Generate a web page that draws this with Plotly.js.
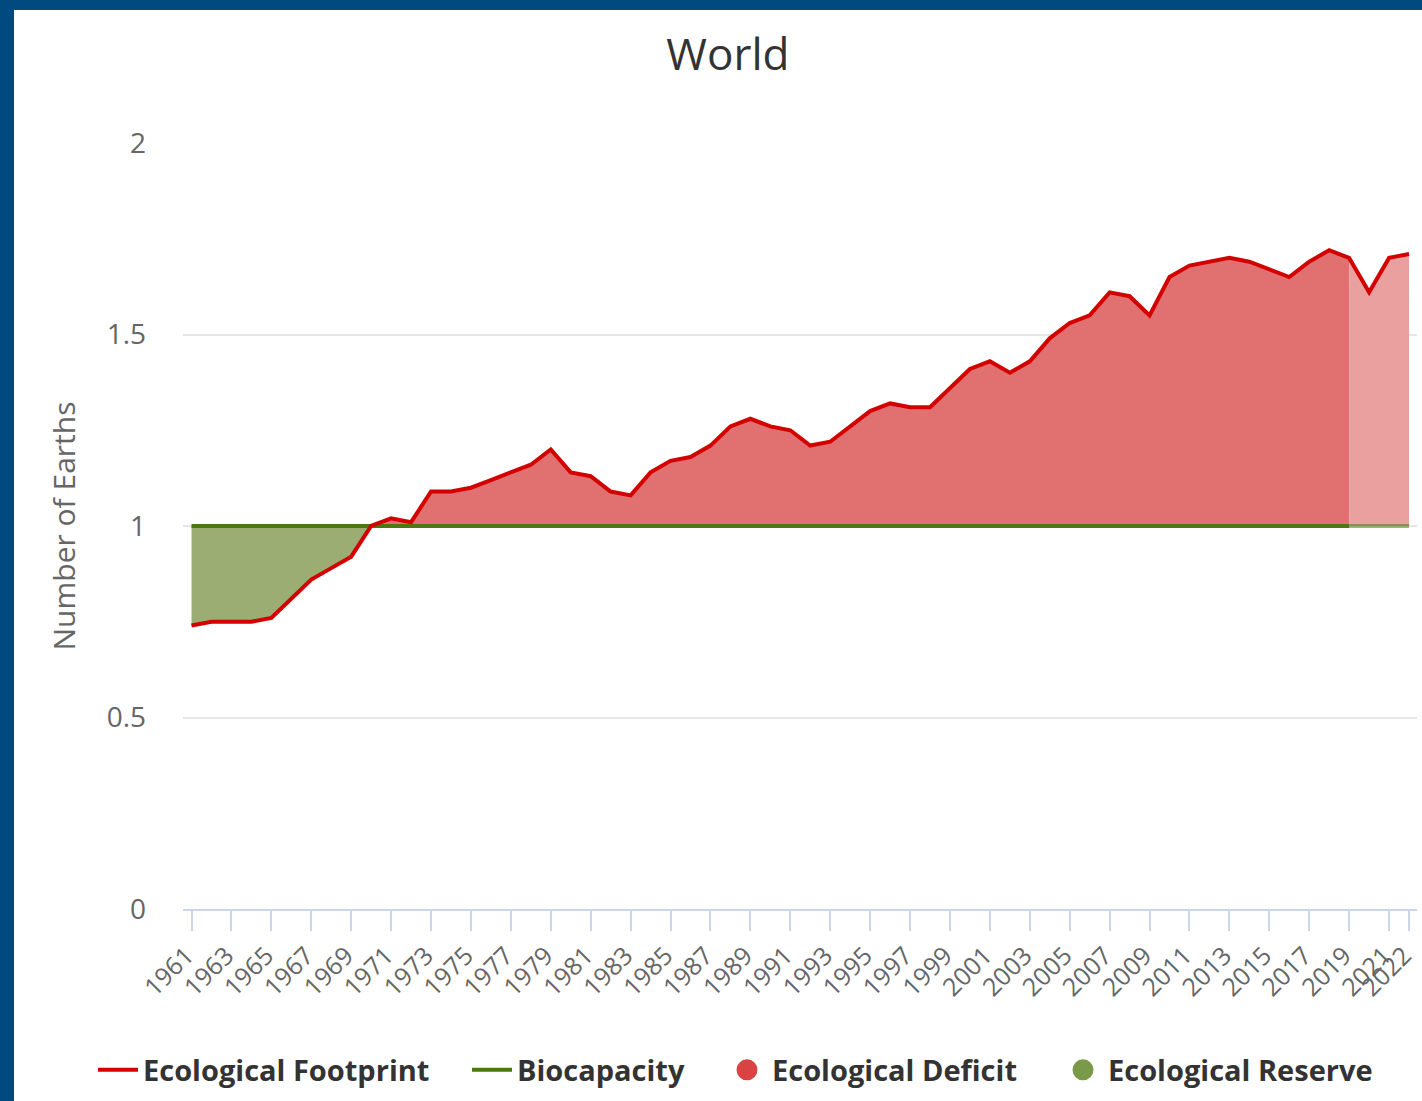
<!DOCTYPE html>
<html>
<head>
<meta charset="utf-8">
<script src="https://cdn.plot.ly/plotly-3.0.1.min.js"></script>
<style>
  html, body { margin: 0; padding: 0; background: #004a80; width: 1422px; height: 1101px; overflow: hidden; }
  #chart { position: absolute; left: 14px; top: 10px; width: 1408px; height: 1091px; background: #ffffff; }
</style>
</head>
<body>
<div id="chart"></div>
<script>
// ---- data ----
const years = [1961,1962,1963,1964,1965,1966,1967,1968,1969,1970,
  1971,1972,1973,1974,1975,1976,1977,1978,1979,1980,
  1981,1982,1983,1984,1985,1986,1987,1988,1989,1990,
  1991,1992,1993,1994,1995,1996,1997,1998,1999,2000,
  2001,2002,2003,2004,2005,2006,2007,2008,2009,2010,
  2011,2012,2013,2014,2015,2016,2017,2018,2019,2020,
  2021,2022];
const footprint = [0.74,0.75,0.75,0.75,0.76,0.81,0.86,0.89,0.92,1.00,
  1.02,1.01,1.09,1.09,1.10,1.12,1.14,1.16,1.20,1.14,
  1.13,1.09,1.08,1.14,1.17,1.18,1.21,1.26,1.28,1.26,
  1.25,1.21,1.22,1.26,1.30,1.32,1.31,1.31,1.36,1.41,
  1.43,1.40,1.43,1.49,1.53,1.55,1.61,1.60,1.55,1.65,
  1.68,1.69,1.70,1.69,1.67,1.65,1.69,1.72,1.70,1.61,
  1.70,1.71];
const biocapacity = [1,1,1,1,1,1,1,1,1,1,
  1,1,1,1,1,1,1,1,1,1,
  1,1,1,1,1,1,1,1,1,1,
  1,1,1,1,1,1,1,1,1,1,
  1,1,1,1,1,1,1,1,1,1,
  1,1,1,1,1,1,1,1,1,1,
  1,1];
const lastMeasuredYear = 2019;
const tickYears = [1961,1963,1965,1967,1969,1971,1973,1975,1977,1979,1981,1983,1985,1987,1989,
  1991,1993,1995,1997,1999,2001,2003,2005,2007,2009,2011,2013,2015,2017,2019,2021,2022];
const yTicks = [0, 0.5, 1, 1.5, 2];
const seriesNames = ["Ecological Footprint","Biocapacity","Ecological Deficit","Ecological Reserve"];
const chartTitle = "World";
const yTitle = "Number of Earths";

// ---- derived ----
const upper = footprint.map((v, i) => Math.max(v, biocapacity[i]));
const lower = footprint.map((v, i) => Math.min(v, biocapacity[i]));
const cut = years.indexOf(lastMeasuredYear);
const sA = a => a.slice(0, cut + 1);
const sB = a => a.slice(cut);

const RED = "#d40000", GREEN = "#4b7a12";
const DEFICIT_FILL = "rgb(225,112,112)", DEFICIT_FILL_PROJ = "rgb(235,160,160)";
const RESERVE_FILL = "rgb(156,173,116)";
const none = {width: 0, color: "rgba(0,0,0,0)"};

const traces = [
  {x: years, y: lower, mode: "lines", line: none, showlegend: false, hoverinfo: "skip"},
  {x: years, y: biocapacity, mode: "lines", line: none, fill: "tonexty", fillcolor: RESERVE_FILL, showlegend: false, hoverinfo: "skip"},
  {x: sA(years), y: sA(biocapacity), mode: "lines", line: none, showlegend: false, hoverinfo: "skip"},
  {x: sA(years), y: sA(upper), mode: "lines", line: none, fill: "tonexty", fillcolor: DEFICIT_FILL, showlegend: false, hoverinfo: "skip"},
  {x: sB(years), y: sB(biocapacity), mode: "lines", line: none, showlegend: false, hoverinfo: "skip"},
  {x: sB(years), y: sB(upper), mode: "lines", line: none, fill: "tonexty", fillcolor: DEFICIT_FILL_PROJ, showlegend: false, hoverinfo: "skip"},
  {x: sA(years), y: sA(biocapacity), mode: "lines", name: seriesNames[1], legend: "legend2", line: {color: GREEN, width: 4}, hoverinfo: "skip"},
  {x: sB(years), y: sB(biocapacity), mode: "lines", showlegend: false, line: {color: "rgba(75,122,18,0.55)", width: 4}, hoverinfo: "skip"},
  {x: years, y: footprint, mode: "lines", name: seriesNames[0], legend: "legend", line: {color: RED, width: 4}, hoverinfo: "skip"},
  {x: [null], y: [null], mode: "markers", name: seriesNames[2], legend: "legend3",
   marker: {color: "#d94343", size: 16, symbol: "circle", line: {color: "#d94343", width: 5}}},
  {x: [null], y: [null], mode: "markers", name: seriesNames[3], legend: "legend4",
   marker: {color: "#7a9a4a", size: 16, symbol: "circle", line: {color: "#7a9a4a", width: 5}}}
];

const legendBase = (leftPx) => ({
  orientation: "h", xref: "container", yref: "container",
  x: (leftPx - 14) / 1408, xanchor: "left", y: 1 - (1070 - 10) / 1091, yanchor: "middle",
  font: {size: 29, color: "#333333", weight: "bold"}, itemwidth: 40, bgcolor: "rgba(0,0,0,0)", borderwidth: 0
});

const layout = {
  width: 1408, height: 1091,
  margin: {l: 169, r: 5, t: 133, b: 192, pad: 0},
  paper_bgcolor: "#ffffff", plot_bgcolor: "#ffffff",
  font: {family: "Open Sans, DejaVu Sans, sans-serif", color: "#666666"},
  title: {text: chartTitle, x: 0.507, xref: "container", xanchor: "center", y: 0.959, yref: "container", yanchor: "middle",
          font: {size: 44, color: "#333333", family: "Open Sans, sans-serif"}},
  xaxis: {
    range: [1960.574, 2022.4], tickmode: "array", tickvals: tickYears, ticktext: tickYears.map(String),
    tickangle: -45, tickfont: {size: 25, color: "#666666"}, ticklabeloverflow: "allow", ticklabelshift: -5,
    showgrid: false, zeroline: false, showline: true, linecolor: "#ccd6eb", linewidth: 2,
    ticks: "outside", ticklen: 20, tickwidth: 2, tickcolor: "#ccd6eb", fixedrange: true
  },
  yaxis: {
    range: [0, 2], tickmode: "array", tickvals: yTicks, ticktext: yTicks.map(String),
    tickfont: {size: 28, color: "#666666"}, showgrid: true, gridcolor: "#e6e6e6", gridwidth: 2,
    zeroline: false, showline: false, ticks: "", ticklabelstandoff: 36,
    title: {text: yTitle, font: {size: 30, color: "#666666"}, standoff: 22}, fixedrange: true
  },
  showlegend: true,
  legend: legendBase(93),
  legend2: legendBase(467),
  legend3: legendBase(722),
  legend4: legendBase(1058),
  hovermode: false
};

Plotly.newPlot("chart", traces, layout, {displayModeBar: false, staticPlot: true});
</script>
</body>
</html>
